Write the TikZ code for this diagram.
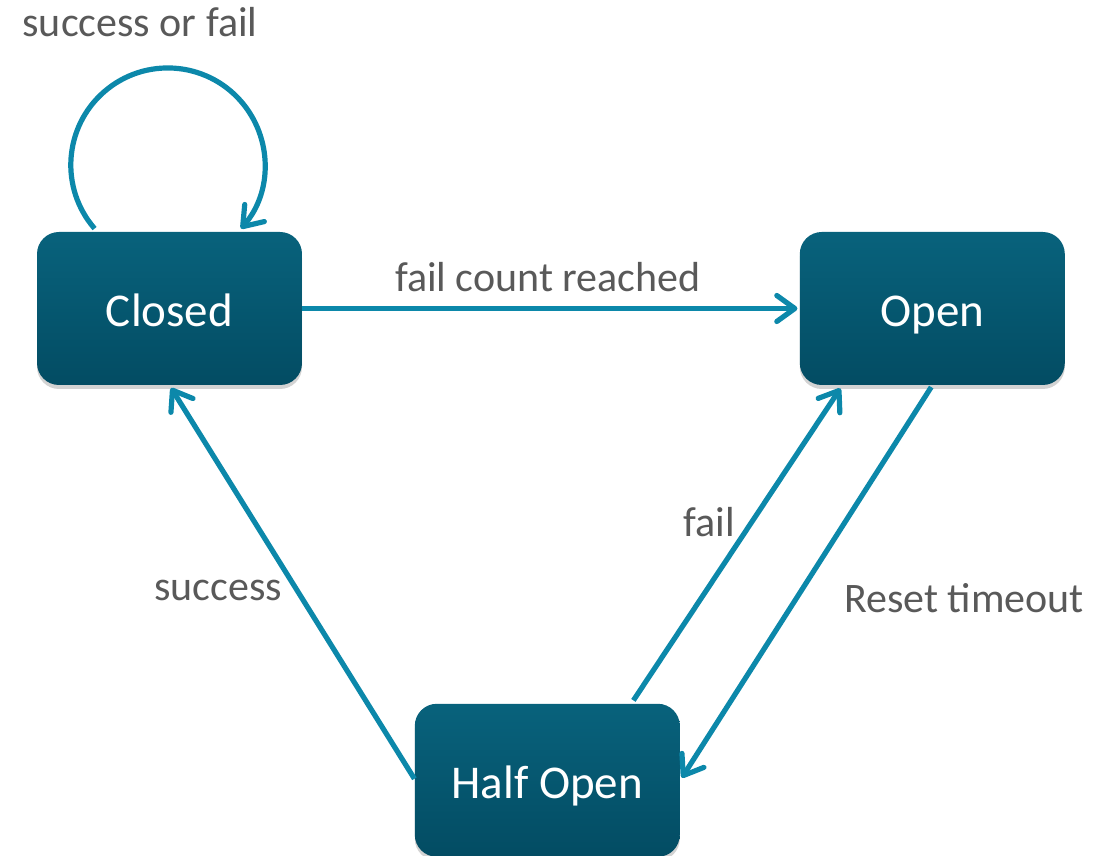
\documentclass[tikz,border=0pt]{standalone}
\usepackage{fontspec}
\setmainfont{Carlito}
\usetikzlibrary{positioning,arrows.meta,shadows}
\definecolor{boxtop}{HTML}{08627C}
\definecolor{boxbot}{HTML}{034C63}
\definecolor{arrowc}{HTML}{0C88AA}
\definecolor{txt}{HTML}{595959}
\begin{document}
\begin{tikzpicture}[x=0.5pt,y=0.5pt,
  state/.style = {rounded corners=11pt, top color=boxtop, bottom color=boxbot,
    minimum width=132.5pt, minimum height=76.5pt, text=white,
    text height=22.5pt, text depth=4pt,
    font=\fontsize{23.5pt}{27pt}\selectfont,
    drop shadow={opacity=0.35, shadow xshift=0pt, shadow yshift=-2pt}},
  link/.style = {draw=arrowc, line width=2.6pt, -{Straight Barb[length=9pt,width=13pt,round]}},
  lbl/.style = {text=txt, font=\fontsize{21pt}{25pt}\selectfont}]
\useasboundingbox (0,0) rectangle (1113,856);
\node[state] (closed) at (169.5,547.5) {Closed};
\node[state] (open) [right=248.5pt of closed] {Open};
\node[state] (half) [below right=159pt and 56pt of closed] {Half Open};
\draw[link] ([xshift=29pt,yshift=1.5pt]closed.north west) arc[start angle=221, end angle=-41, radius=48.5pt];
\draw[link, shorten >=1pt] (closed) -- (open);
\draw[link, shorten >=1.5pt] ([yshift=0.75pt]half.west) -- (closed.south);
\draw[link] ([xshift=109.5pt,yshift=1.5pt]half.north west) -- ([xshift=20.5pt,yshift=-1.5pt]open.south west);
\draw[link, shorten <=1pt, shorten >=1.5pt] (open.south) -- (half.east);
\node[lbl] (lloop) at (140,834) {success or fail};
\node[lbl] (lcount) at (548,579) {fail count reached};
\node[lbl] (lfail) at (709,334) {fail};
\node[lbl] (lsucc) at (218,266) {success};
\node[lbl] (lreset) at (964,258) {Reset timeout};
\end{tikzpicture}
\end{document}
